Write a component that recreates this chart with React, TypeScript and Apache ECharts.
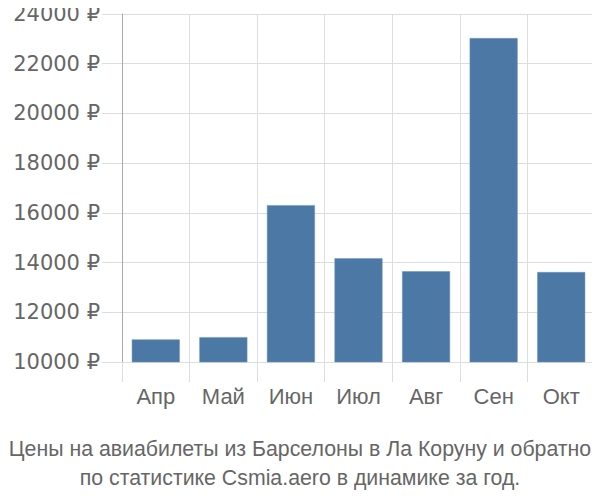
import React, { useEffect, useRef } from "react";
import * as echarts from "echarts";

const categories = ["Апр", "Май", "Июн", "Июл", "Авг", "Сен", "Окт"];
const prices = [10910, 11000, 16310, 14170, 13650, 23030, 13620];
const yTicks = { min: 10000, max: 24000, step: 2000 };
const titleLines = [
  "Цены на авиабилеты из Барселоны в Ла Коруну и обратно",
  "по статистике Csmia.aero в динамике за год.",
];

export default function App() {
  const ref = useRef<HTMLDivElement>(null);
  useEffect(() => {
    if (!ref.current) return;
    const chart = echarts.init(ref.current, undefined, { renderer: "svg" });
    chart.setOption({
      animation: false,
      grid: { left: 122, right: 5, top: 14, bottom: 138, containLabel: false },
      title: {
        text: titleLines.join("\n"),
        left: "center",
        top: 434,
        padding: 0,
        textStyle: {
          fontFamily: "Liberation Sans",
          fontSize: 21.3,
          lineHeight: 29,
          fontWeight: "normal",
          color: "#666",
        },
      },
      xAxis: {
        type: "category",
        data: categories,
        axisLine: { show: false },
        axisTick: { show: true, length: 20, lineStyle: { color: "#ddd", width: 1 } },
        splitLine: { show: true, lineStyle: { color: "#ddd", width: 1 } },
        axisLabel: {
          margin: 23,
          fontSize: 22,
          color: "#666",
          fontFamily: "Liberation Sans",
        },
      },
      yAxis: {
        type: "value",
        min: yTicks.min,
        max: yTicks.max,
        interval: yTicks.step,
        axisLine: { show: true, lineStyle: { color: "#aaa", width: 1 } },
        axisTick: { show: true, length: 20, lineStyle: { color: "#ddd", width: 1 } },
        splitLine: { show: true, lineStyle: { color: "#ddd", width: 1 } },
        axisLabel: {
          margin: 22,
          fontSize: 21,
          color: "#666",
          fontFamily: "DejaVu Sans",
          formatter: (v: number) => `${v} ₽`,
        },
      },
      series: [
        {
          type: "bar",
          data: prices,
          barWidth: 48,
          itemStyle: { color: "#4c78a6", borderColor: "#6f92bb", borderWidth: 0.5 },
        },
      ],
    });
    return () => chart.dispose();
  }, []);
  return <div ref={ref} style={{ width: 600, height: 500, margin: -8 }} />;
}
